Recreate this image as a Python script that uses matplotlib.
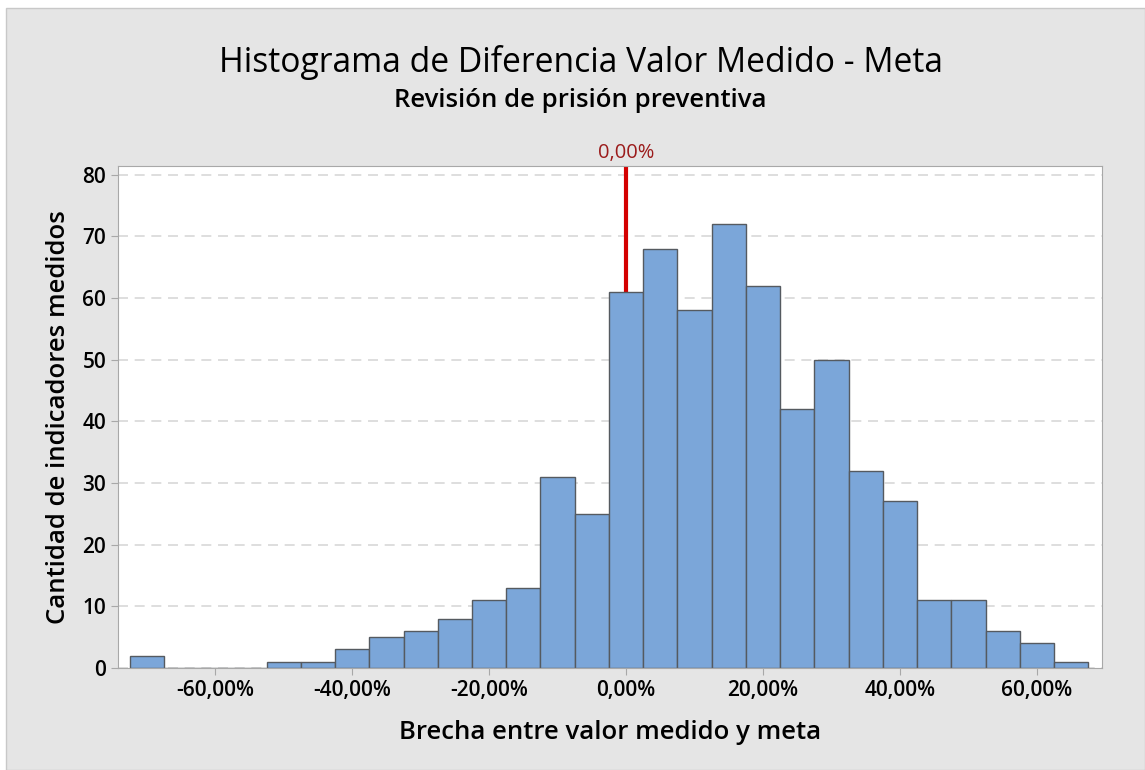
import matplotlib
matplotlib.use("Agg")
import matplotlib.pyplot as plt
from matplotlib.patches import Rectangle
from matplotlib.ticker import FuncFormatter

plt.rcParams['font.family'] = ['Open Sans', 'DejaVu Sans']

# bin centres (%) and counts
bin_centers = [-70, -65, -60, -55, -50, -45, -40, -35, -30, -25, -20, -15, -10, -5,
               0, 5, 10, 15, 20, 25, 30, 35, 40, 45, 50, 55, 60, 65]
counts = [2, 0, 0, 0, 1, 1, 3, 5, 6, 8, 11, 13, 31, 25,
          61, 68, 58, 72, 62, 42, 50, 32, 27, 11, 11, 6, 4, 1]
bin_width = 5
ref_value = 0.0
x_ticks = [-60, -40, -20, 0, 20, 40, 60]
y_ticks = [0, 10, 20, 30, 40, 50, 60, 70, 80]

fig = plt.figure(figsize=(11.45, 7.70), dpi=100, facecolor='white')
# grey panel with thin border
fig.patches.append(Rectangle((6 / 1145, 0.0), 1 - 6 / 1145, 1 - 8 / 770,
                             transform=fig.transFigure, facecolor='#e5e5e5',
                             edgecolor='#c8c8c8', linewidth=1, zorder=-10))

ax = fig.add_axes([118 / 1145, (770 - 668) / 770, (1102 - 118) / 1145, (668 - 166) / 770])
ax.set_facecolor('white')

for y in y_ticks:
    ax.axhline(y, color='#d8d8d8', linestyle=(0, (6, 4)), linewidth=1.2, zorder=0)

ax.axvline(ref_value, color='#d40000', linewidth=3, zorder=1)

ax.bar(bin_centers, counts, width=bin_width, color='#7ba6d9',
       edgecolor='#555a60', linewidth=1, zorder=2)

ax.set_xlim(-74.2, 69.5)
ax.set_ylim(0, 81.4)
ax.set_xticks(x_ticks)
ax.set_yticks(y_ticks)
ax.xaxis.set_major_formatter(FuncFormatter(lambda v, p: ('%.2f%%' % v).replace('.', ',')))

for s in ax.spines.values():
    s.set_color('#a8a8a8')
ax.tick_params(axis='both', colors='#a8a8a8', length=5, labelsize=15, labelcolor='black')
for lab in ax.get_xticklabels() + ax.get_yticklabels():
    lab.set_fontweight('semibold')

ax.set_xlabel('Brecha entre valor medido y meta', fontsize=18.5, fontweight='semibold', labelpad=14)
ax.set_ylabel('Cantidad de indicadores medidos', fontsize=18.5, fontweight='semibold', labelpad=8)

ax.text(ref_value, 1.005, ('%.2f%%' % ref_value).replace('.', ','),
        transform=ax.get_xaxis_transform(), ha='center', va='bottom',
        color='#9b1b1b', fontsize=14.5, fontweight='medium')

fig.text(0.507, 0.919, 'Histograma de Diferencia Valor Medido - Meta',
         ha='center', va='center', fontsize=24.2, fontweight='medium')
fig.text(0.507, 0.870, 'Revisión de prisión preventiva',
         ha='center', va='center', fontsize=18.5, fontweight='semibold')

fig.savefig('out.png', dpi=100, facecolor=fig.get_facecolor())
